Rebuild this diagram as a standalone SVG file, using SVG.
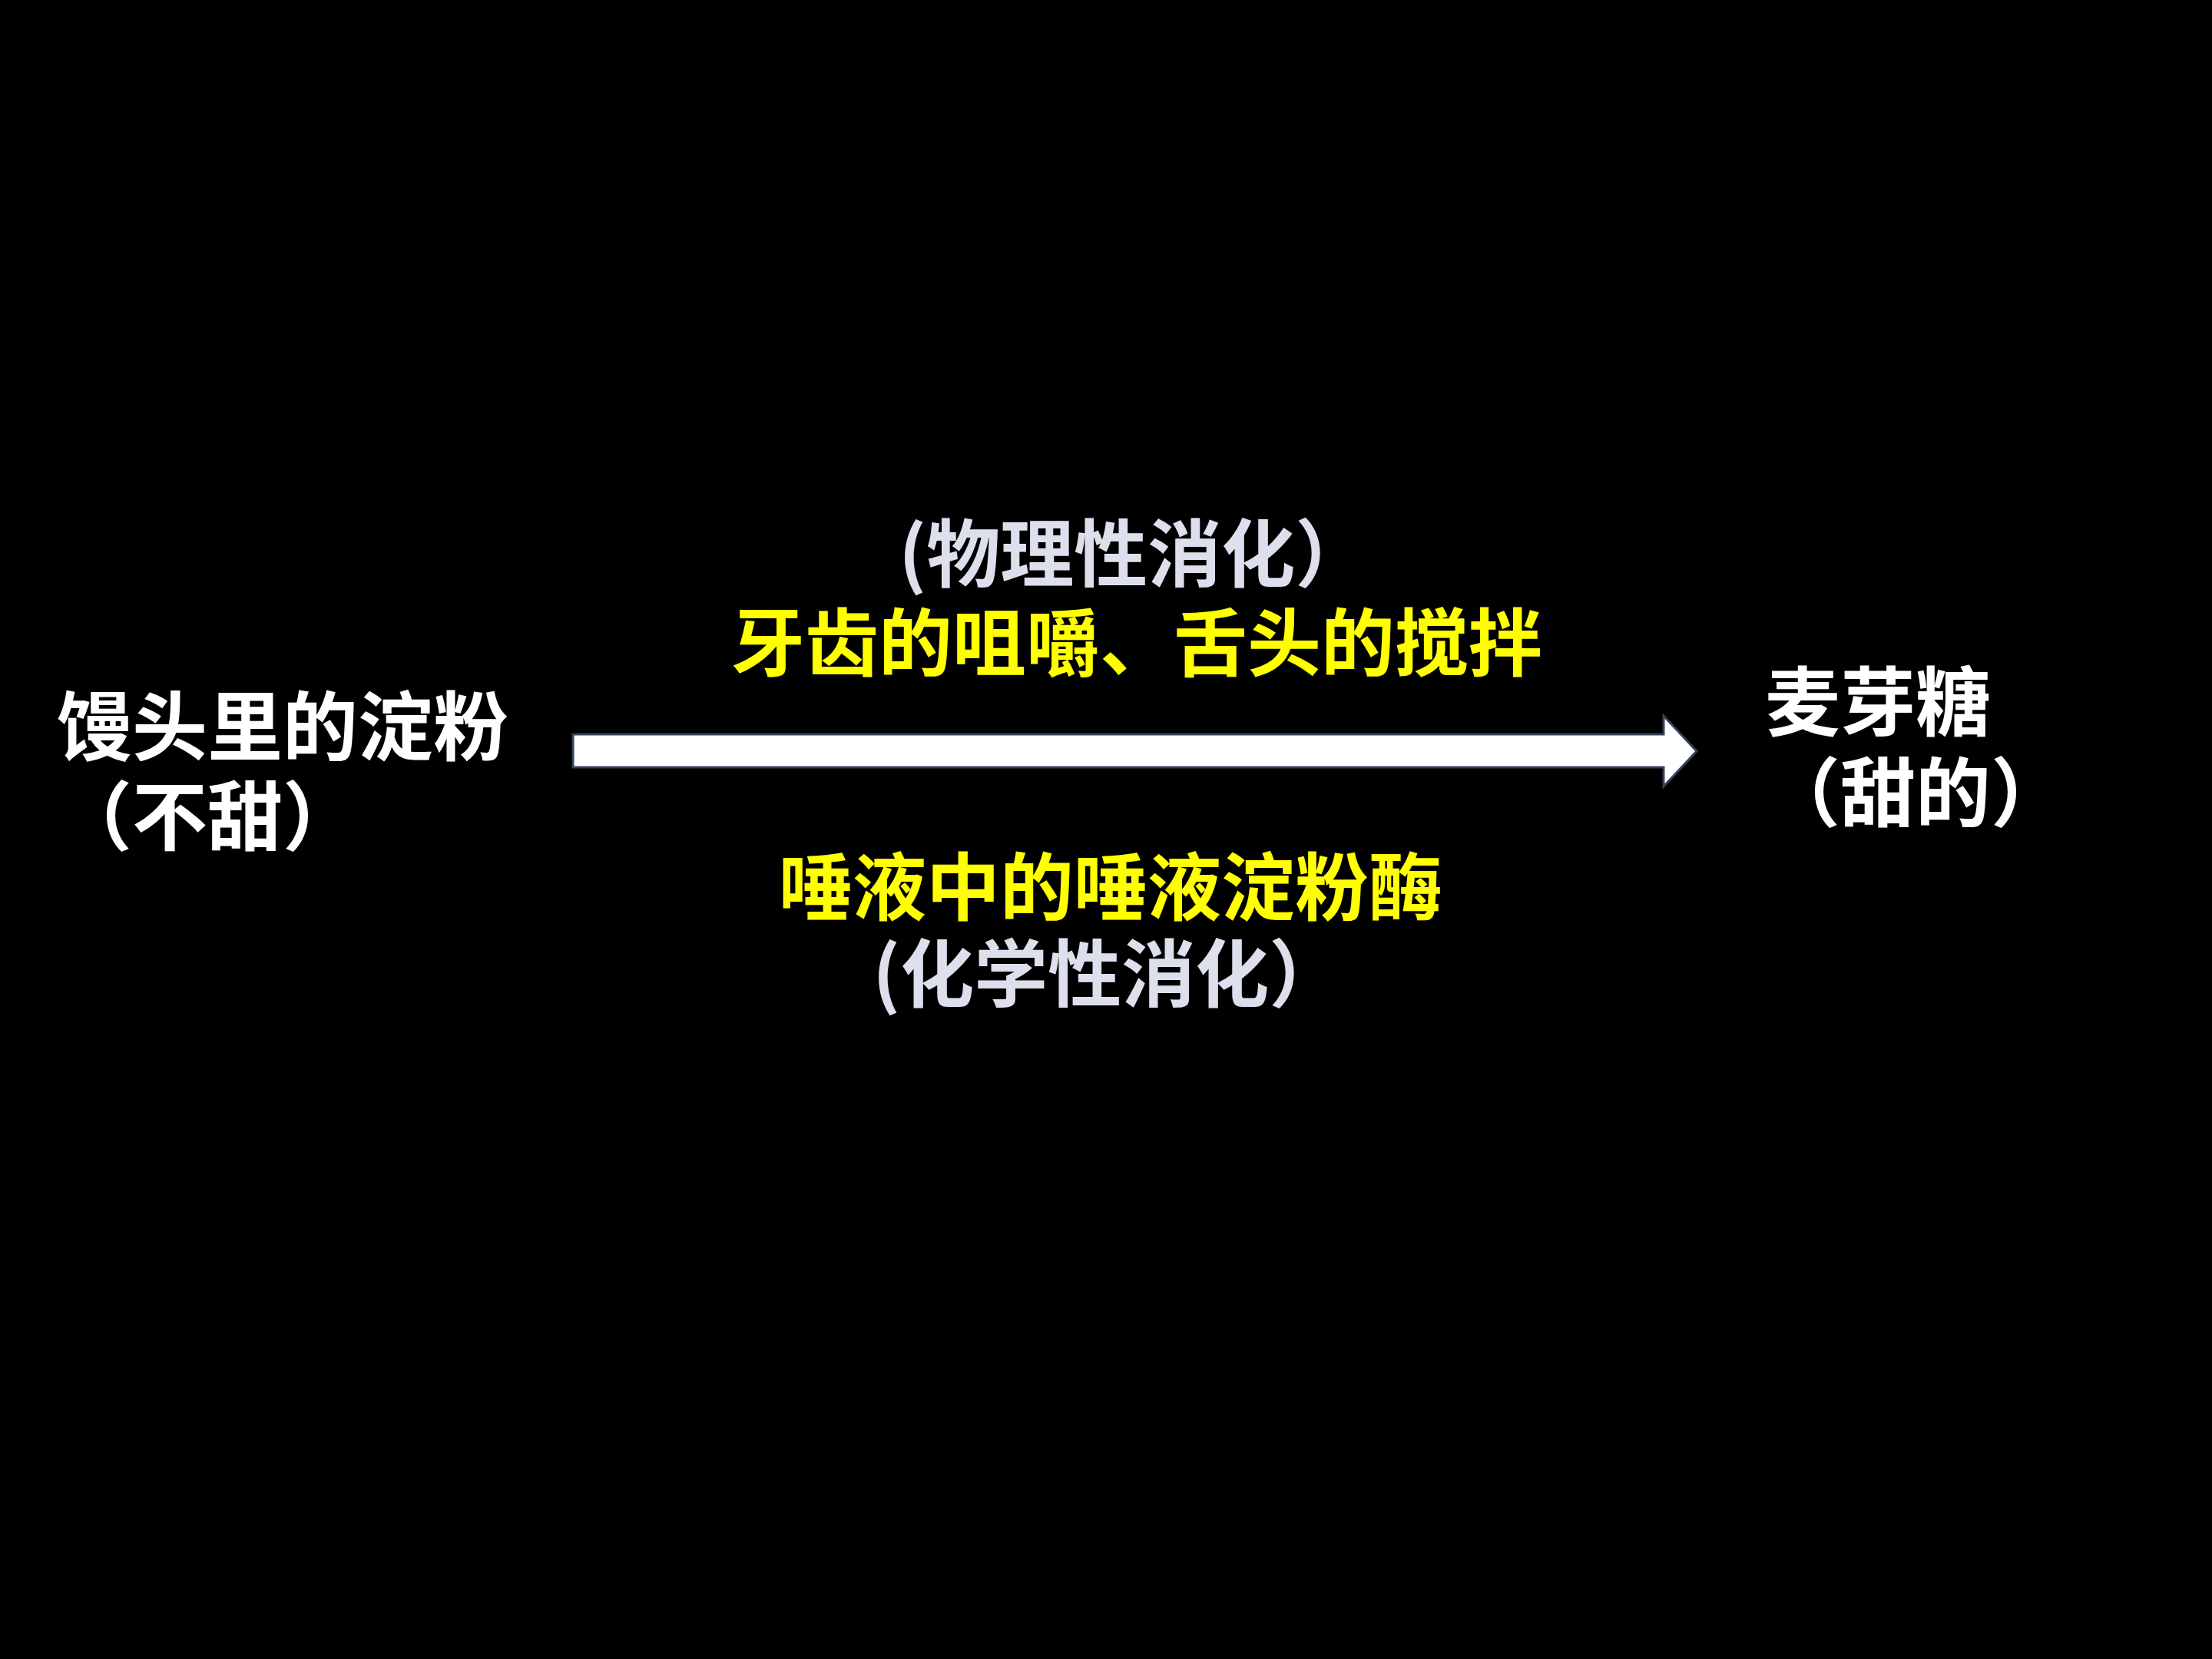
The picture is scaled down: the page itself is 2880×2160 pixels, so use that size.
<svg xmlns="http://www.w3.org/2000/svg" width="2880" height="2160" viewBox="0 0 2880 2160">
<style>
.t{font-family:"Noto Sans CJK SC","Noto Sans",sans-serif;font-weight:bold;}
.w{fill:#ffffff;font-size:98px;}
.y{fill:#ffff00;font-size:96px;}
.g{fill:#dde0ec;font-size:96px;}
.arrow{fill:#ffffff;stroke:#34405c;stroke-width:3;stroke-linejoin:miter;}
</style>
<rect x="0" y="0" width="2880" height="2160" fill="#000000"/>
<g id="node-starch">
<text class="t w" x="74" y="982">馒头里的淀粉</text>
<text class="t w" x="74" y="1099">（不甜）</text>
</g>
<g id="node-maltose">
<text class="t w" x="2298" y="950">麦芽糖</text>
<text class="t w" x="2298" y="1068">（甜的）</text>
</g>
<g id="connectors">
<polygon class="arrow" points="746,956 2166,956 2166,932 2209,978 2166,1024 2166,999 746,999"/>
</g>
<g id="label-physical">
<text class="t g" x="1170" y="756">(物理性消化）</text>
<text class="t y" x="952" y="872">牙齿的咀嚼、舌头的搅拌</text>
</g>
<g id="label-chemical">
<text class="t y" x="1014" y="1190">唾液中的唾液淀粉酶</text>
<text class="t g" x="1136" y="1303">(化学性消化）</text>
</g>
</svg>
